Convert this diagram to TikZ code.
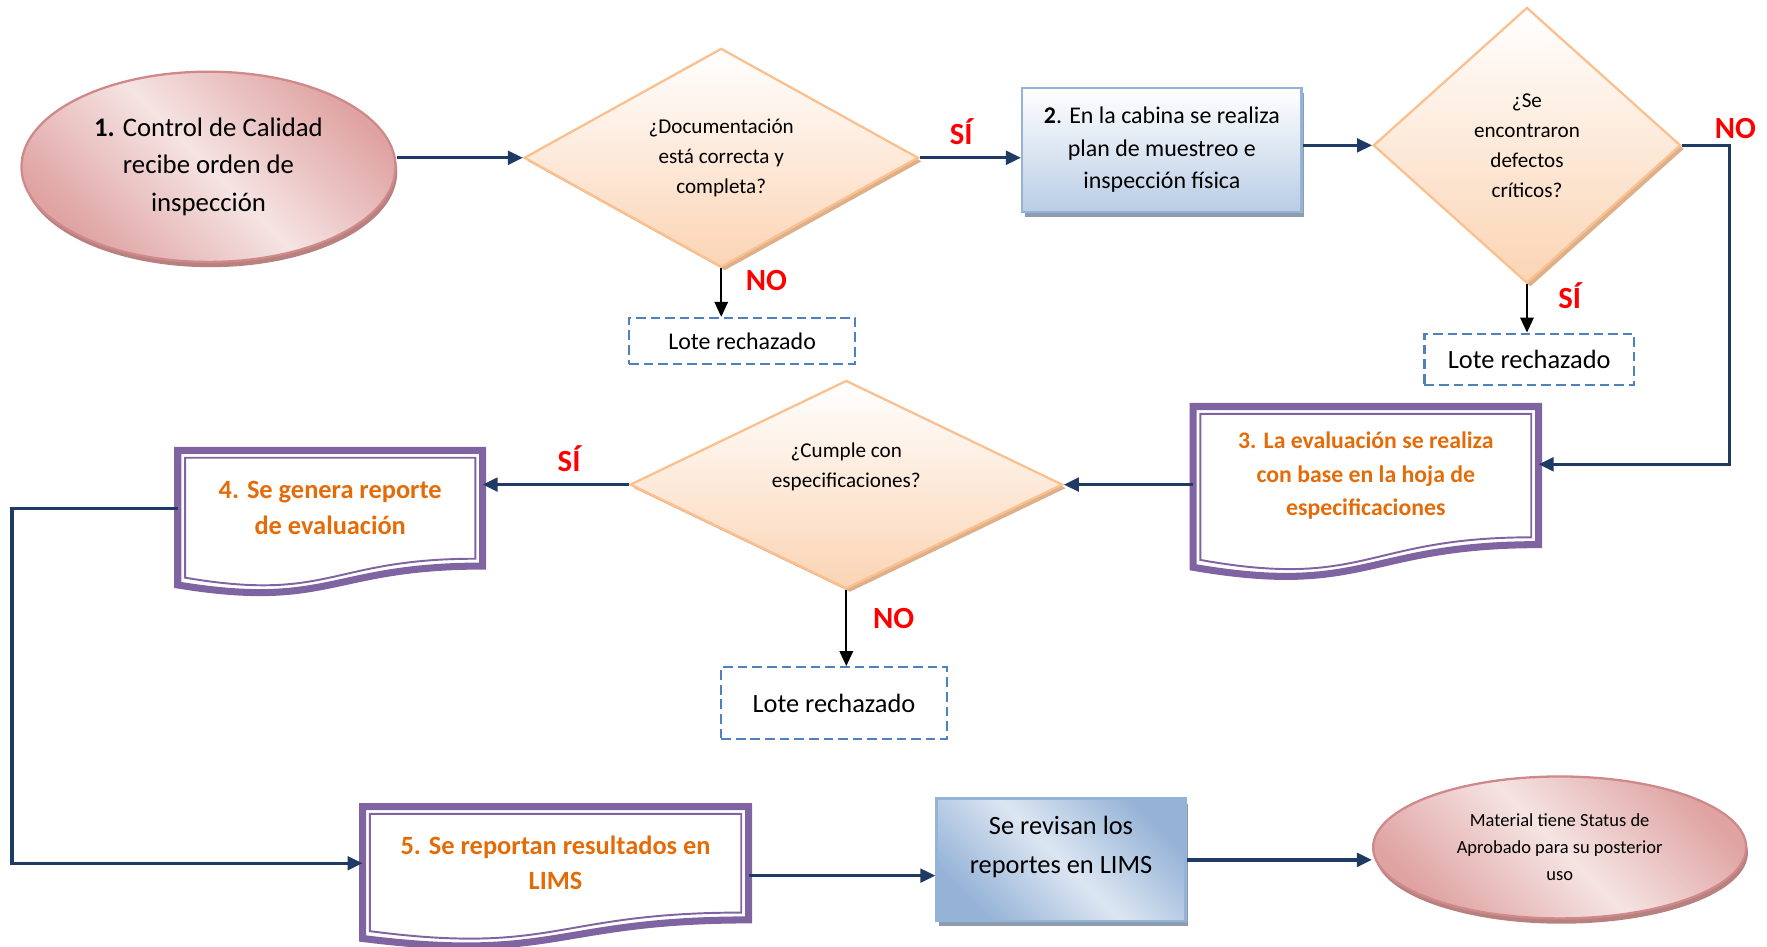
\documentclass[tikz,border=0pt]{standalone}
\usepackage{fontspec}
\setmainfont{Carlito}
\usetikzlibrary{shapes.geometric,shadows,calc,arrows.meta}
\definecolor{navy}{HTML}{1F3A63}
\definecolor{pinkdark}{HTML}{DFA3A2}
\definecolor{pinklight}{HTML}{F5E4E3}
\definecolor{pinkline}{HTML}{D0898A}
\definecolor{pinkshadow}{HTML}{B7817F}
\definecolor{peach}{HTML}{FBD4B4}
\definecolor{peachline}{HTML}{FAC08F}
\definecolor{peachshadow}{HTML}{DDB08A}
\definecolor{bluedark}{HTML}{95B3D7}
\definecolor{bluelight}{HTML}{DCE6F2}
\definecolor{bluebottom}{HTML}{B9CDE5}
\definecolor{blueline}{HTML}{95B3D7}
\definecolor{grayshadow}{HTML}{8E9CB0}
\definecolor{dashblue}{HTML}{4F81BD}
\definecolor{docpurple}{HTML}{8064A2}
\definecolor{docorange}{HTML}{E36C09}
\definecolor{nored}{HTML}{FF0000}

\begin{document}
\begin{tikzpicture}[x=0.0225cm, y=-0.0225cm, >={Triangle[length=0.3cm,width=0.27cm]},
  flow/.style={->, navy, line width=1.9pt},
  rejectarrow/.style={->, black, line width=1pt},
  startend/.style={ellipse, draw=pinkline, line width=1.3pt, left color=pinkdark, right color=pinkdark,
    middle color=pinklight, shading angle=-45, inner sep=0pt, align=center,
    drop shadow={shadow xshift=1pt, shadow yshift=-3pt, fill=pinkshadow, opacity=1}},
  decision/.style={diamond, draw=peachline, line width=1.3pt, top color=white, bottom color=peach,
    inner sep=0pt, align=center, font=\fontsize{12}{17}\selectfont,
    drop shadow={shadow xshift=2pt, shadow yshift=-2pt, fill=peachshadow, opacity=1}},
  process/.style={rectangle, draw=blueline, line width=1.3pt, top color=white, bottom color=bluebottom,
    align=center, drop shadow={shadow xshift=1.6pt, shadow yshift=-3pt, fill=grayshadow, opacity=1}},
  review/.style={rectangle, draw=blueline, line width=1.3pt, left color=bluedark, right color=bluedark,
    middle color=bluelight, shading angle=-45, align=center,
    drop shadow={shadow xshift=1.6pt, shadow yshift=-3pt, fill=grayshadow, opacity=1}},
  reject/.style={rectangle, draw=dashblue, dash pattern=on 5.5pt off 2.8pt, line width=1.2pt, align=center},
  docnode/.style={rectangle, inner sep=0pt, align=center, text=docorange},
  docouter/.style={draw=docpurple, line width=4pt},
  docinner/.style={draw=docpurple, line width=1.1pt},
  answer/.style={text=nored, inner sep=0pt, font=\fontsize{17.5}{20}\selectfont\bfseries}]
\useasboundingbox (0,0) rectangle (1568,840);

% top row
\node[startend, minimum width=7.47cm, minimum height=3.8cm, font=\fontsize{15.2}{21.4}\selectfont]
  (ell1) at (185,148) {\textbf{1.} Control de Calidad\\recibe orden de\\inspección};
\node[decision, minimum width=7.875cm, minimum height=4.37cm, shape aspect=1.8]
  (dia1) at (640,140) {¿Documentación\\está correcta y\\completa?};
\node[process, minimum width=5.58cm, minimum height=2.475cm, font=\fontsize{13.6}{18.5}\selectfont]
  (box2) at (1031,133) {\textbf{2}. En la cabina se realiza\\plan de muestreo e\\inspección física};
\node[decision, minimum width=6.14cm, minimum height=5.51cm, shape aspect=1.11]
  (dia2) at (1355,129) {¿Se\\encontraron\\defectos\\críticos?};
\node[reject, minimum width=4.52cm, minimum height=0.92cm, font=\fontsize{13.6}{16}\selectfont]
  (L1) at (658.5,302.5) {Lote rechazado};
\node[reject, minimum width=4.185cm, minimum height=1.035cm, font=\fontsize{15}{18}\selectfont]
  (L2) at (1357,319) {Lote rechazado};

% middle row
\node[docnode, minimum width=6.885cm, minimum height=2.745cm, font=\fontsize{13.5}{19}\selectfont\bfseries]
  (doc3) at (1212,422) {3. La evaluación se realiza\\con base en la hoja de\\especificaciones};
\node[decision, minimum width=8.64cm, minimum height=4.16cm,
  label={[name=dia3text, yshift=0.35cm, align=center, font=\fontsize{12}{17}\selectfont]center:{¿Cumple con\\especificaciones?}}]
  (dia3) at (751,430) {};
\node[docnode, minimum width=6.075cm, minimum height=2.295cm, font=\fontsize{15}{20.5}\selectfont\bfseries]
  (doc4) at (293,451) {4. Se genera reporte\\de evaluación};
\node[reject, minimum width=4.5cm, minimum height=1.44cm, font=\fontsize{15}{18}\selectfont]
  (L3) at (740,624) {Lote rechazado};

% bottom row
\node[docnode, minimum width=7.695cm, minimum height=2.25cm, font=\fontsize{15}{19.8}\selectfont\bfseries]
  (doc5) at (493,766) {5. Se reportan resultados en\\LIMS};
\node[review, minimum width=4.97cm, minimum height=2.45cm,
  label={[name=box6text, yshift=0.26cm, align=center, font=\fontsize{15}{21.8}\selectfont]center:{Se revisan los\\reportes en LIMS}}]
  (box6) at (941.5,763) {};
\node[startend, minimum width=7.45cm, minimum height=2.835cm, font=\fontsize{10.5}{15.4}\selectfont]
  (ell2) at (1384,752) {Material tiene Status de\\Aprobado para su posterior\\uso};

% document outlines
\foreach \n/\r in {doc3/122, doc4/102, doc5/100}{
  \draw[docouter] (\n.north west) -- (\n.north east) -- (\n.south east)
    .. controls (\n.south) and ($(\n.south)+(0,.381*\r)$) .. ($(\n.south west)+(0,.1646*\r)$) -- cycle;
  \draw[docinner] ($(\n.north west)+(6.5,6.5)$) -- ($(\n.north east)+(-6.5,6.5)$) -- ($(\n.south east)+(-6.5,-6.5)$)
    .. controls ($(\n.south)+(0,-6.5)$) and ($(\n.south)+(0,.381*\r-6.5)$) .. ($(\n.south west)+(6.5,.1646*\r-6.5)$) -- cycle;
}

% answers
\node[answer] (si1) at (853,117) {SÍ};
\node[answer] (no1) at (680,249) {NO};
\node[answer] (no2) at (1540,114) {NO};
\node[answer] (si2) at (1393,262) {SÍ};
\node[answer] (si3) at (505,407) {SÍ};
\node[answer] (no3) at (793,549) {NO};

% connectors
\draw[flow] (ell1.east |- dia1.west) -- (dia1.west);
\draw[flow] (dia1.east) -- (dia1.east -| box2.west);
\draw[flow] (box2.east |- dia2.west) -- (dia2.west);
\draw[rejectarrow] (dia1.south) -- (dia1.south |- L1.north);
\draw[rejectarrow] (dia2.south) -- (dia2.south |- L2.north);
\draw[flow] (dia2.east) -- ++(42,0) |- ($(doc3.east)+(0,-10)$);
\draw[flow] (doc3.west |- dia3.east) -- (dia3.east);
\draw[flow] (dia3.west) -- (dia3.west -| doc4.east);
\draw[rejectarrow] (dia3.south) -- (dia3.south |- L3.north);
\draw[flow] (doc4.west) -- ++(-147,0) |- (doc5.west);
\coordinate (j5) at ($(doc5.east)+(0,11)$);
\draw[flow] (j5) -- (j5 -| box6.west);
\draw[flow] (box6.east) -- (box6.east -| ell2.west);
\end{tikzpicture}
\end{document}
